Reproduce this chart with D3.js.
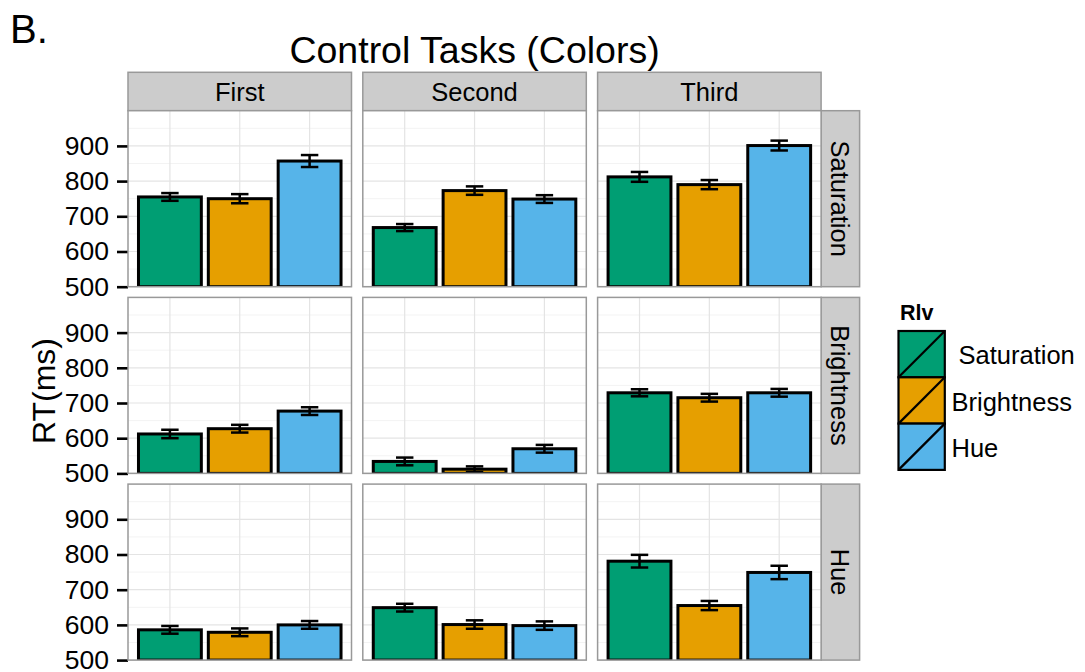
<!DOCTYPE html>
<html>
<head>
<meta charset="utf-8">
<script src="https://cdn.jsdelivr.net/npm/d3@7"></script>
<style>
  html, body { margin: 0; padding: 0; background: #fff; }
  svg { display: block; font-family: "Liberation Sans", Arial, Helvetica, sans-serif; }
</style>
</head>
<body>
<svg id="chart" width="1085" height="672"></svg>
<script>
// Facet columns (task order) and facet rows (task dimension)
const columns = ["First", "Second", "Third"];
const rows = ["Saturation", "Brightness", "Hue"];
// Relevant dimension (fill)
const rlv = ["Saturation", "Brightness", "Hue"];
const rlvColors = ["#009E73", "#E69F00", "#56B4E9"];

// Mean RT per column: [Saturation, Brightness, Hue]
const rtSaturation = [[755, 750, 857], [668, 773, 749], [812, 790, 901]];
const rtBrightness = [[612, 627, 677], [534, 512, 570], [729, 715, 729]];
const rtHue        = [[586, 579, 600], [649, 601, 598], [781, 655, 749]];
// Standard errors, same layout
const seSaturation = [[11, 13, 17], [10, 12, 11], [14, 13, 14]];
const seBrightness = [[12, 11, 11], [11, 8, 11], [10, 11, 11]];
const seHue        = [[11, 11, 11], [11, 12, 12], [18, 13, 19]];

const yTicks = [500, 600, 700, 800, 900];
const yMinor = [550, 650, 750, 850, 950];
const yDomain = [500, 1000];

const rtByRow = [rtSaturation, rtBrightness, rtHue];
const seByRow = [seSaturation, seBrightness, seHue];

const svg = d3.select("#chart");

// Layout
const panelLeft = 128, panelTop = 110.7;
const panelW = 223.5, panelH = 176;
const gapX = 11.3, gapY = 10.7;
const stripH = 38.4, stripW = 38.5;
const borderCol = "#999999", stripFill = "#cccccc";

const x = d3.scaleBand().domain(rlv).range([0, panelW]).paddingInner(0.1).paddingOuter(0.15);
const y = d3.scaleLinear().domain(yDomain).range([panelH, 0]);
const color = d3.scaleOrdinal().domain(rlv).range(rlvColors);

// Label "B." and title
svg.append("text").attr("x", 10).attr("y", 43).attr("font-size", 40).text("B.");
svg.append("text")
  .attr("x", panelLeft + (3 * panelW + 2 * gapX) / 2).attr("y", 63)
  .attr("text-anchor", "middle").attr("font-size", 37.5)
  .text("Control Tasks (Colors)");

// Column strips
columns.forEach((c, ci) => {
  const gx = panelLeft + ci * (panelW + gapX);
  const g = svg.append("g").attr("transform", `translate(${gx},${panelTop - stripH})`);
  g.append("rect").attr("width", panelW).attr("height", stripH)
    .attr("fill", stripFill).attr("stroke", borderCol).attr("stroke-width", 1.5);
  g.append("text").attr("x", panelW / 2).attr("y", stripH / 2)
    .attr("dy", "0.36em").attr("text-anchor", "middle").attr("font-size", 25.5).text(c);
});

rows.forEach((r, ri) => {
  const gy = panelTop + ri * (panelH + gapY);

  // Row strip on the right
  const sx = panelLeft + 3 * panelW + 2 * gapX;
  const sg = svg.append("g").attr("transform", `translate(${sx},${gy})`);
  sg.append("rect").attr("width", stripW).attr("height", panelH)
    .attr("fill", stripFill).attr("stroke", borderCol).attr("stroke-width", 1.5);
  sg.append("text")
    .attr("transform", `translate(${stripW / 2},${panelH / 2}) rotate(90)`)
    .attr("dy", "0.36em").attr("text-anchor", "middle").attr("font-size", 25.5).text(r);

  // Y axis on the left
  const axis = d3.axisLeft(y).tickValues(yTicks).tickSize(11).tickPadding(8);
  const ag = svg.append("g").attr("transform", `translate(${panelLeft},${gy})`).call(axis);
  ag.select(".domain").remove();
  ag.selectAll(".tick line").attr("stroke", "#000").attr("stroke-width", 2.6);
  ag.selectAll(".tick text").attr("font-size", 26.5).attr("fill", "#000")
    .attr("font-family", "Liberation Sans, Arial, sans-serif");

  columns.forEach((c, ci) => {
    const gx = panelLeft + ci * (panelW + gapX);
    const g = svg.append("g").attr("transform", `translate(${gx},${gy})`);
    const clipId = `clip-${ri}-${ci}`;
    g.append("clipPath").attr("id", clipId)
      .append("rect").attr("width", panelW).attr("height", panelH);

    g.append("rect").attr("width", panelW).attr("height", panelH).attr("fill", "#ffffff");

    // grid
    g.selectAll(".minor").data(yMinor).enter().append("line")
      .attr("x1", 0).attr("x2", panelW)
      .attr("y1", d => y(d)).attr("y2", d => y(d))
      .attr("stroke", "#f3f3f3").attr("stroke-width", 1);
    g.selectAll(".major").data(yTicks).enter().append("line")
      .attr("x1", 0).attr("x2", panelW)
      .attr("y1", d => y(d)).attr("y2", d => y(d))
      .attr("stroke", "#e4e4e4").attr("stroke-width", 1.2);
    g.selectAll(".vmajor").data(rlv).enter().append("line")
      .attr("x1", d => x(d) + x.bandwidth() / 2).attr("x2", d => x(d) + x.bandwidth() / 2)
      .attr("y1", 0).attr("y2", panelH)
      .attr("stroke", "#e4e4e4").attr("stroke-width", 1.2);

    const vals = rtByRow[ri][ci].map((v, k) => ({ key: rlv[k], v, se: seByRow[ri][ci][k] }));
    const inner = g.append("g").attr("clip-path", `url(#${clipId})`);

    inner.selectAll(".bar").data(vals).enter().append("rect")
      .attr("x", d => x(d.key)).attr("width", x.bandwidth())
      .attr("y", d => y(d.v)).attr("height", d => y(yDomain[0]) - y(d.v))
      .attr("fill", d => color(d.key)).attr("stroke", "#000").attr("stroke-width", 3);

    // error bars
    const capHalf = x.step() * 0.125;
    const eb = g.selectAll(".eb").data(vals).enter().append("g")
      .attr("transform", d => `translate(${x(d.key) + x.bandwidth() / 2},0)`)
      .attr("stroke", "#000").attr("stroke-width", 2.5);
    eb.append("line").attr("x1", 0).attr("x2", 0)
      .attr("y1", d => y(d.v + d.se)).attr("y2", d => y(d.v - d.se));
    eb.append("line").attr("x1", -capHalf).attr("x2", capHalf)
      .attr("y1", d => y(d.v + d.se)).attr("y2", d => y(d.v + d.se));
    eb.append("line").attr("x1", -capHalf).attr("x2", capHalf)
      .attr("y1", d => y(d.v - d.se)).attr("y2", d => y(d.v - d.se));

    g.append("rect").attr("width", panelW).attr("height", panelH)
      .attr("fill", "none").attr("stroke", borderCol).attr("stroke-width", 1.5);
  });
});

// Y axis title
svg.append("text")
  .attr("transform", "translate(55,391) rotate(-90)")
  .attr("text-anchor", "middle").attr("font-size", 32).text("RT(ms)");

// Legend
const legend = svg.append("g").attr("transform", "translate(898.5,331)");
legend.append("text").attr("x", 1.5).attr("y", -11).attr("font-size", 21.5)
  .attr("font-weight", "bold").text("Rlv");
const keySize = 46.3;
const labelX = [60, 53, 53];
rlv.forEach((k, i) => {
  const kg = legend.append("g").attr("transform", `translate(0,${i * keySize})`);
  kg.append("rect").attr("width", keySize).attr("height", keySize)
    .attr("fill", color(k)).attr("stroke", "#000").attr("stroke-width", 2.2);
  kg.append("line").attr("x1", 0).attr("y1", keySize).attr("x2", keySize).attr("y2", 0)
    .attr("stroke", "#000").attr("stroke-width", 2.2);
  kg.append("text").attr("x", labelX[i]).attr("y", keySize / 2 + 1)
    .attr("dy", "0.36em").attr("font-size", 25.5).text(k);
});
</script>
</body>
</html>
